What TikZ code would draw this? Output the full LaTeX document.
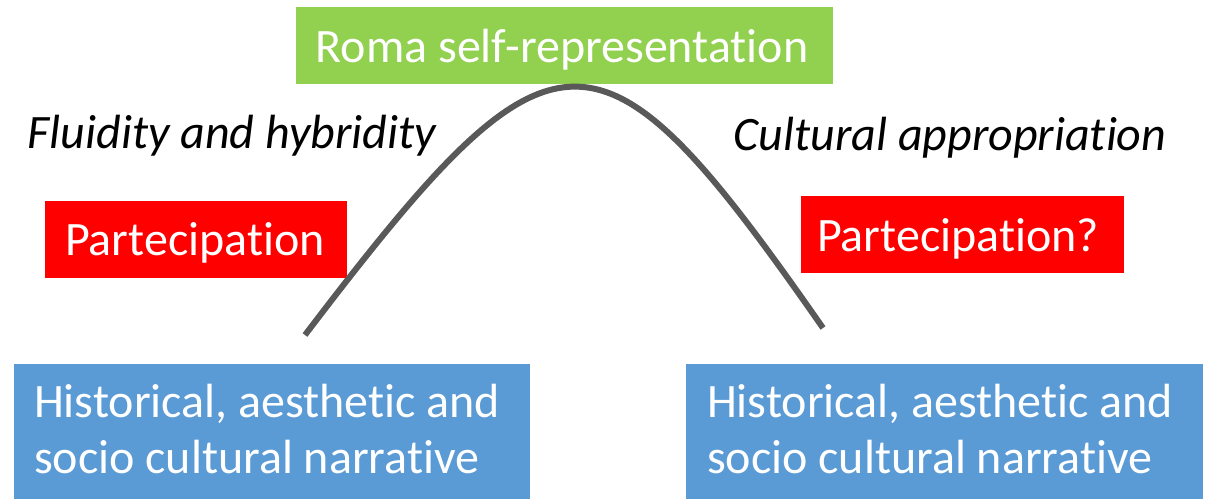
\documentclass[tikz,border=0pt]{standalone}
\usepackage{fontspec}
\setmainfont{Carlito}[Ligatures=NoCommon]
\definecolor{boxgreen}{HTML}{92D050}
\definecolor{boxred}{HTML}{FF0000}
\definecolor{boxblue}{HTML}{5B9BD5}
\definecolor{arcgray}{HTML}{595959}
\begin{document}
\begin{tikzpicture}[x=1pt,y=-1pt,
  every node/.style={inner sep=0pt, outer sep=0pt},
  panel/.style={rectangle, anchor=north west},
  label/.style={font=\fontsize{48}{56}\selectfont, text=white},
  theme/.style={font=\fontsize{48}{58}\selectfont\itshape, text=black},
  arcline/.style={draw=arcgray, line width=6pt}]
  \useasboundingbox (0,0) rectangle (1206,498);

  % top box
  \node[panel, fill=boxgreen, minimum width=537pt, minimum height=77pt] (top) at (296,7) {};
  \node[label, anchor=base] (toptext) at (562,62) {Roma self-representation};

  % participation boxes
  \node[panel, fill=boxred, minimum width=302pt, minimum height=77pt] (pl) at (45,201) {};
  \node[label, anchor=base] (pltext) at (195,255) {Partecipation};
  \node[panel, fill=boxred, minimum width=323pt, minimum height=77pt] (pr) at (801,196) {};
  \node[label, anchor=base] (prtext) at (958,251) {Partecipation?};

  % narrative boxes (base anchor sits on the last line)
  \node[panel, fill=boxblue, minimum width=516pt, minimum height=140pt] (nl) at (14,364) {};
  \node[label, anchor=base west, align=left] (nltext) at (34,473) {Historical, aesthetic and\\socio cultural narrative};
  \node[panel, fill=boxblue, minimum width=517pt, minimum height=140pt] (nr) at (686,364) {};
  \node[label, anchor=base west, align=left] (nrtext) at (707,473) {Historical, aesthetic and\\socio cultural narrative};

  % side themes
  \node[theme, anchor=base] (fluid) at (232,148) {Fluidity and hybridity};
  \node[theme, anchor=base] (approp) at (950,150) {Cultural appropriation};

  % the arc
  \coordinate (arcstart) at (305,335);
  \coordinate (arcend) at (823,328);
  \draw[arcline] (arcstart) .. controls (556,5) and (598,5) .. (arcend);
\end{tikzpicture}
\end{document}
